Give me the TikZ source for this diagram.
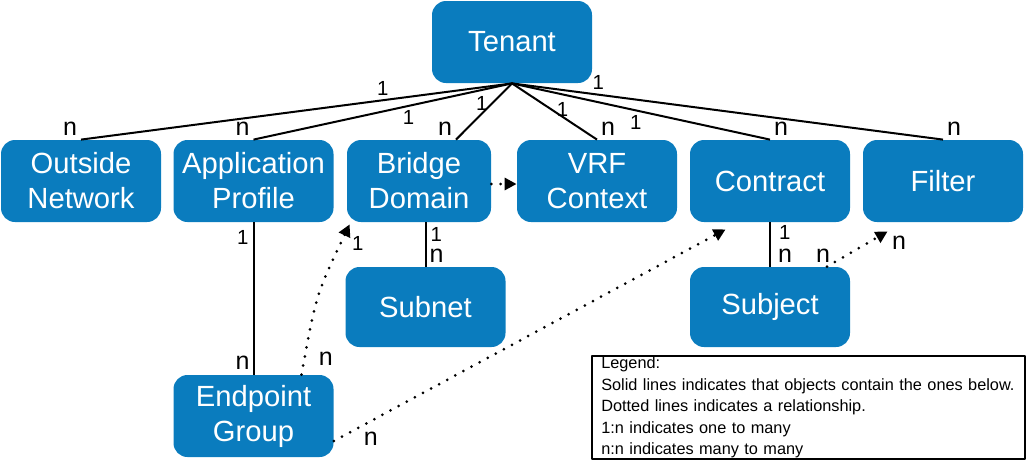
\documentclass[tikz,border=0pt]{standalone}
\usepackage{fontspec}
\setmainfont{Liberation Sans}
\usetikzlibrary{calc,arrows.meta}
\definecolor{aciblue}{RGB}{10,124,190}

\begin{document}
\begin{tikzpicture}[x=0.5pt, y=-0.5pt, line join=round, >={Triangle[length=6pt,width=6pt]},
 obj/.style={fill=aciblue, text=white, rounded corners=7pt, minimum width=80pt, minimum height=41pt, inner sep=0pt, align=center, font=\fontsize{14.6}{17.5}\selectfont},
 cont/.style={line width=1pt},
 rel/.style={line width=1.5pt, dash pattern=on 0pt off 4.6pt, line cap=round, ->},
 one/.style={font=\fontsize{10.2}{11}\selectfont, inner sep=2pt},
 many/.style={font=\fontsize{12.5}{13}\selectfont, inner sep=1.5pt},
 legend/.style={draw, line width=0.8pt, align=left, text width=207pt, inner xsep=4.75pt, inner ysep=0.5pt, font=\fontsize{8.15}{10.75}\selectfont}]
 \useasboundingbox (0,0) rectangle (1027,461);
 % Objects
 \node[obj] (tenant) at (512,42) {Tenant};
 \node[obj] (outside) at (81,181) {Outside\\Network};
 \node[obj] (approf) at (253.5,181) {Application\\Profile};
 \node[obj, minimum width=72pt] (bridge) at (419,181) {Bridge\\Domain};
 \node[obj] (vrf) at (597,181) {VRF\\Context};
 \node[obj] (contract) at (770,181) {Contract};
 \node[obj] (filter) at (943,181) {Filter};
 \node[obj, minimum height=40pt] (subnet) at (425.5,307) {Subnet};
 \node[obj, minimum height=40pt] (subject) at (770,307) {Subject};
 \node[obj] (epg) at (253.5,416) {Endpoint\\Group};
 % Containment
 \draw[cont] (tenant.south) -- (outside.north) node[one,pos=0.3,above]{1} node[many,pos=1,above left]{n};
 \draw[cont] (tenant.south) -- (approf.north) node[one,pos=0.4,below]{1} node[many,pos=1,above left]{n};
 \draw[cont] (tenant.south) -- ($(bridge.north)+(37,0)$) node[one,pos=0.35,left]{1} node[many,pos=1,above left]{n};
 \draw[cont] (tenant.south) -- (vrf.north) node[one,pos=0.47,right]{1} node[many,pos=1,above right]{n};
 \draw[cont] (tenant.south) -- (contract.north) node[one,pos=0.48,below]{1} node[many,pos=1,above right]{n};
 \draw[cont] (tenant.south) -- (filter.north) node[one,pos=0.2,above]{1} node[many,pos=1,above right]{n};
 \draw[cont] (approf.south) -- (epg.north) node[one,pos=0.1,left]{1} node[many,pos=0.92,left]{n};
 \draw[cont] (subnet.north |- bridge.south) -- (subnet.north) node[one,pos=0.27,right]{1} node[many,pos=0.76,right]{n};
 \draw[cont] (contract.south) -- (subject.north) node[one,pos=0.22,right=2pt]{1} node[many,pos=0.76,right=2pt]{n};
 % Relations
 \draw[rel] ($(epg.north)+(48,0)$) .. controls (316,295) .. ($(bridge.south west)+(3,2)$) node[many,pos=0.07,right=5pt]{n} node[one,pos=0.97,below right]{1};
 \draw[rel] ([yshift=-1.5pt]bridge.east) -- ([yshift=-1.5pt]vrf.west);
 \draw[rel] ($(epg.east)+(0,25)$) -- ($(contract.south west)+(36,7)$) node[many,pos=0.094,below=3pt]{n};
 \draw[rel] ($(subject.north)+(57,0)$) -- ($(filter.south west)+(25,9)$) node[many,pos=0,above,xshift=-2pt]{n} node[many,pos=1,below right]{n};
 % Legend
 \node[legend, anchor=north west] (legendbox) at (591,355) {Legend:\\Solid lines indicates that objects contain the ones below.\\Dotted lines indicates a relationship.\\1:n indicates one to many\\n:n indicates many to many};
\end{tikzpicture}
\end{document}
